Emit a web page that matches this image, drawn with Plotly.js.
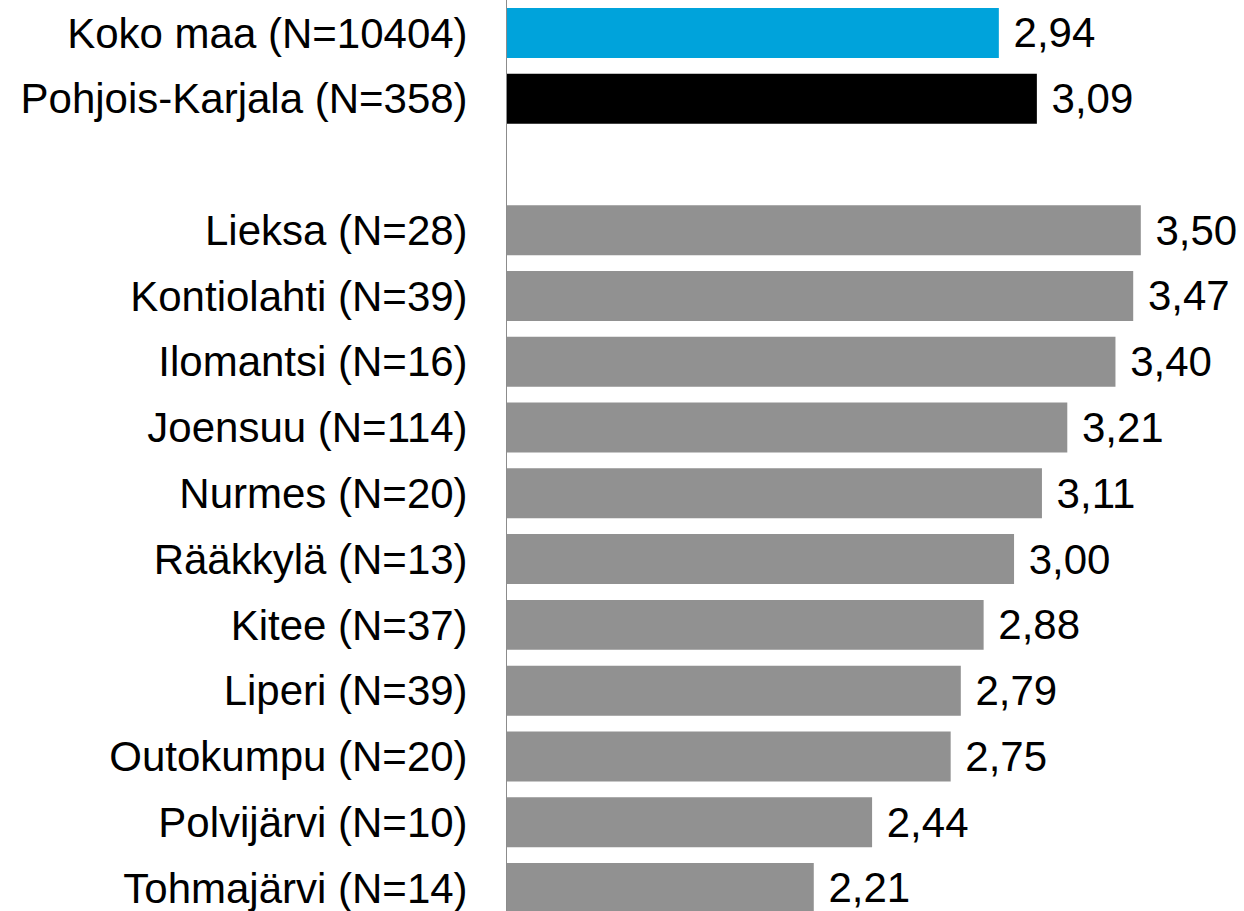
<!DOCTYPE html>
<html>
<head>
<meta charset="utf-8">
<script src="https://cdn.plot.ly/plotly-3.0.1.min.js"></script>
<style>html,body{margin:0;padding:0;background:#fff;}#chart{width:1244px;height:911px;}</style>
</head>
<body>
<div id="chart"></div>
<script>
const categories = [
  "Koko maa (N=10404)",
  "Pohjois-Karjala (N=358)",
  " ",
  "Lieksa (N=28)",
  "Kontiolahti (N=39)",
  "Ilomantsi (N=16)",
  "Joensuu (N=114)",
  "Nurmes (N=20)",
  "Rääkkylä (N=13)",
  "Kitee (N=37)",
  "Liperi (N=39)",
  "Outokumpu (N=20)",
  "Polvijärvi (N=10)",
  "Tohmajärvi (N=14)"
];
const values = [2.94, 3.09, null, 3.50, 3.47, 3.40, 3.21, 3.11, 3.00, 2.88, 2.79, 2.75, 2.44, 2.21];

const colorCountry = "#00A3DB";
const colorRegion = "#000000";
const colorMunicipality = "#919191";
const colors = categories.map((c, i) => i === 0 ? colorCountry : (i === 1 ? colorRegion : colorMunicipality));

const FONT = "Liberation Sans, Arial, sans-serif";

const trace = {
  type: "bar",
  orientation: "h",
  y: categories,
  x: values,
  marker: { color: colors, line: { width: 0 } },
  texttemplate: " %{x:.2f}",
  textposition: "outside",
  textfont: { family: FONT, size: 42, color: "#000" },
  cliponaxis: false,
  hoverinfo: "none"
};

const layout = {
  width: 1244,
  height: 911,
  separators: ", ",
  margin: { l: 507, r: 0, t: 0, b: 0, pad: 0 },
  paper_bgcolor: "#fff",
  plot_bgcolor: "#fff",
  showlegend: false,
  bargap: 0.24,
  font: { family: FONT, size: 42, color: "#000" },
  xaxis: {
    range: [1, 3.907],
    visible: false,
    showgrid: false,
    zeroline: false
  },
  yaxis: {
    type: "category",
    categoryorder: "array",
    categoryarray: categories,
    range: [13.35, -0.5],
    showline: true,
    linecolor: "#8c8c8c",
    linewidth: 1,
    showgrid: false,
    zeroline: false,
    ticks: "",
    ticklabelstandoff: 30,
    tickfont: { family: FONT, size: 42, color: "#000" }
  }
};

Plotly.newPlot("chart", [trace], layout, { displayModeBar: false, staticPlot: true });
</script>
</body>
</html>
